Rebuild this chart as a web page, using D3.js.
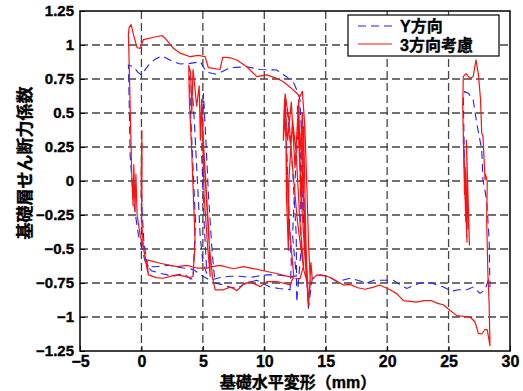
<!DOCTYPE html>
<html>
<head>
<meta charset="utf-8">
<script src="https://cdn.jsdelivr.net/npm/d3@7"></script>
<style>
  body { margin: 0; background: #fff; }
  text { font-family: "Liberation Sans", "Noto Sans CJK JP", sans-serif; font-weight: bold; fill: #000; stroke: #000; stroke-width: 0.35px; }
</style>
</head>
<body>
<div id="graphicContainer"></div>
<script>

// tick values and labels
var xTicks = [-5, 0, 5, 10, 15, 20, 25, 30]
var xTickLabels = ["−5", "0", "5", "10", "15", "20", "25", "30"]
var yTicks = [-1.25, -1, -0.75, -0.5, -0.25, 0, 0.25, 0.5, 0.75, 1, 1.25]
var yTickLabels = ["−1.25", "−1", "−0.75", "−0.5", "−0.25", "0", "0.25", "0.5", "0.75", "1", "1.25"]

var seriesNames = ["Y方向", "3方向考慮"]

// [基礎水平変形 mm, 基礎層せん断力係数]
var bluePath = [
  [0.00, 0.00], [0.05, -0.20], [0.20, -0.45], [0.44, -0.60], [0.57, -0.63],
  [0.30, -0.59], [-0.24, -0.40], [-0.65, -0.15], [-0.92, 0.19], [-1.00, 0.60], [-1.06, 0.853],
  [-0.65, 0.84], [-0.30, 0.80], [-0.02, 0.78], [0.56, 0.85], [1.10, 0.895], [1.66, 0.92], [2.60, 0.877],
  [3.15, 0.86], [3.96, 0.865], [4.80, 0.877], [5.30, 0.80], [6.10, 0.785], [7.22, 0.833], [8.58, 0.84],
  [9.66, 0.82], [11.00, 0.816], [11.80, 0.767], [12.40, 0.72], [12.64, 0.67], [12.90, 0.60],
  [13.10, 0.20], [13.30, -0.30], [13.45, -0.70], [13.60, -0.94], [13.40, -0.55], [13.10, 0.05],
  [12.80, 0.45], [12.50, 0.00], [12.30, -0.40], [12.60, -0.70],
  [11.80, -0.70], [11.00, -0.69], [10.20, -0.69], [9.40, -0.70], [8.85, -0.71], [8.00, -0.70],
  [7.22, -0.70], [6.40, -0.71], [5.60, -0.73], [5.00, -0.70], [4.20, -0.65], [3.40, -0.64],
  [2.20, -0.62], [1.10, -0.63], [0.57, -0.63],
  [0.80, -0.66], [1.60, -0.68], [2.60, -0.70], [3.42, -0.68], [4.00, -0.72], [4.20, -0.72],
  [4.40, -0.30], [4.20, 0.10], [4.00, 0.50], [3.90, 0.77], [4.10, 0.72], [4.30, 0.45], [4.50, 0.10],
  [4.78, -0.40], [5.00, -0.60], [5.32, -0.68], [5.10, -0.30], [4.90, 0.20], [5.05, 0.645], [5.30, 0.20],
  [5.45, -0.09], [5.70, -0.45], [5.86, -0.63], [6.00, -0.75],
  [6.50, -0.76], [7.20, -0.78], [7.76, -0.79], [8.50, -0.75], [9.39, -0.73], [10.00, -0.76],
  [10.47, -0.78], [11.20, -0.79], [12.10, -0.80],
  [12.20, -0.60], [12.00, -0.20], [11.80, 0.30], [11.70, 0.62], [11.90, 0.50], [12.30, 0.10],
  [12.60, -0.40], [12.64, -0.89], [13.00, -0.50], [12.90, 0.20], [13.20, -0.30], [13.59, -0.936],
  [13.90, -0.72], [14.55, -0.69], [15.20, -0.70], [15.90, -0.74], [17.00, -0.715], [17.60, -0.73],
  [18.34, -0.75], [18.90, -0.73], [19.43, -0.73], [20.50, -0.73], [21.00, -0.76], [21.60, -0.79],
  [22.10, -0.77], [22.68, -0.75], [23.63, -0.75], [24.57, -0.78], [25.26, -0.81], [25.80, -0.80],
  [26.48, -0.80], [27.00, -0.78], [27.56, -0.826], [27.97, -0.80], [28.23, -0.73], [28.37, -0.78],
  [28.30, -0.43], [28.10, -0.14], [27.80, 0.007], [27.70, 0.23], [27.30, 0.42], [27.00, 0.60],
  [26.60, 0.645], [26.30, 0.657], [26.20, 0.61],
  [26.30, 0.10], [26.20, 0.30], [26.40, -0.20], [26.30, 0.05], [26.50, -0.41]
]

var redPath = [
  [0.00, 0.00], [0.04, 0.37], [-0.02, 0.02], [0.06, 0.28], [-0.03, -0.12], [0.05, 0.18], [0.02, -0.30],
  [0.16, -0.49], [0.44, -0.64], [0.57, -0.69],
  [0.30, -0.55], [-0.10, -0.40], [-0.35, -0.25], [-0.45, 0.05], [-0.52, -0.22], [-0.62, 0.12],
  [-0.68, -0.18], [-0.78, 0.02], [-0.88, 0.40], [-0.98, 0.80], [-1.06, 1.08], [-1.00, 1.13],
  [-0.84, 1.15], [-0.60, 1.06], [-0.35, 0.98], [-0.10, 0.975],
  [0.16, 1.04], [0.98, 1.057], [1.66, 1.07], [1.93, 1.05], [2.60, 0.976], [3.15, 0.94], [3.96, 0.914],
  [4.64, 0.924], [5.18, 0.914], [5.45, 0.833], [6.40, 0.82], [6.62, 0.91], [7.22, 0.906], [7.76, 0.89],
  [8.58, 0.84], [9.39, 0.767], [10.20, 0.78], [11.00, 0.755], [11.55, 0.73], [12.10, 0.69],
  [12.64, 0.645], [12.90, 0.62],
  [13.10, 0.66], [13.30, 0.40], [13.45, 0.00], [13.60, -0.45], [13.75, -0.75], [13.60, -0.90],
  [13.30, -0.55], [13.00, -0.10], [12.80, 0.30], [12.70, 0.55], [12.90, 0.20], [13.10, 0.50],
  [13.20, -0.20], [13.00, 0.35], [13.30, -0.40], [13.50, -0.75], [13.20, -0.65], [12.70, -0.30],
  [12.30, 0.10], [12.00, 0.45], [11.70, 0.64], [11.60, 0.50], [11.55, 0.30], [11.75, 0.52],
  [11.80, -0.10], [11.96, -0.51], [12.00, 0.00], [12.30, 0.45], [12.60, 0.20], [12.90, -0.30],
  [13.20, -0.62], [12.90, -0.72],
  [11.83, -0.70], [11.00, -0.68], [9.93, -0.66], [8.90, -0.64], [8.30, -0.63], [7.50, -0.645],
  [6.40, -0.62], [5.80, -0.63], [5.30, -0.64], [4.50, -0.64], [3.70, -0.62], [2.90, -0.63],
  [2.34, -0.62], [1.52, -0.605], [0.44, -0.58],
  [0.57, -0.69], [1.20, -0.71], [1.80, -0.715], [2.40, -0.70], [2.88, -0.69], [3.40, -0.70],
  [3.96, -0.71], [4.20, -0.70],
  [4.37, -0.45], [4.10, 0.20], [3.90, 0.60], [3.85, 0.85], [4.00, 0.80], [4.10, 0.50], [4.20, 0.82],
  [4.50, 0.55], [4.70, 0.70], [4.80, 0.30], [4.90, 0.60], [5.10, -0.10], [5.40, -0.50], [5.60, -0.70],
  [5.50, -0.40], [5.10, 0.20], [4.90, 0.55], [5.20, 0.00], [5.50, -0.45], [5.80, -0.72], [6.00, -0.80],
  [6.67, -0.80], [7.20, -0.78], [7.49, -0.79], [7.76, -0.807], [8.30, -0.76], [8.85, -0.74],
  [9.30, -0.76], [9.66, -0.777], [10.20, -0.74], [11.00, -0.74], [11.50, -0.75], [12.10, -0.765],
  [12.40, -0.70], [12.00, -0.30], [11.80, 0.20], [11.65, 0.60], [11.90, 0.30], [12.20, 0.58],
  [12.50, 0.10], [12.80, 0.60], [13.00, -0.20], [13.20, 0.40], [13.40, -0.50], [13.60, -0.92],
  [13.80, -0.60], [13.90, -0.72],
  [14.30, -0.69], [15.10, -0.70], [15.60, -0.72], [16.44, -0.765], [16.98, -0.76], [17.60, -0.785],
  [18.20, -0.796], [18.90, -0.78], [19.40, -0.765], [20.24, -0.80], [20.80, -0.83], [21.32, -0.88],
  [22.40, -0.89], [23.00, -0.88], [23.63, -0.88], [24.10, -0.90], [24.57, -0.91], [25.10, -0.95],
  [25.66, -0.99], [26.74, -1.00], [27.15, -1.035], [27.42, -1.12], [27.70, -1.125], [27.97, -1.09],
  [28.15, -1.095], [28.37, -1.21],
  [28.30, -0.90], [28.20, -0.68], [28.10, -0.29], [28.15, 0.00], [28.00, 0.05], [27.97, 0.007],
  [27.80, 0.33], [27.70, 0.35], [27.60, 0.60], [27.42, 0.79], [27.23, 0.89], [27.00, 0.767],
  [26.74, 0.755], [26.42, 0.79], [26.20, 0.767], [26.15, 0.55],
  [26.30, -0.10], [26.20, 0.35], [26.40, -0.30], [26.25, 0.20], [26.50, -0.45], [26.35, 0.10],
  [26.60, -0.35], [26.45, 0.30], [26.70, -0.47], [26.55, -0.05], [26.65, -0.30]
]

var fullWidth = 523
var fullHeight = 391
var margin = { top: 11, right: 13, bottom: 40, left: 80 }
var width = fullWidth - margin.left - margin.right
var height = fullHeight - margin.top - margin.bottom

var svg = d3.select("#graphicContainer").append("svg")
  .attr("width", fullWidth)
  .attr("height", fullHeight)

var features = svg.append("g").attr("transform", "translate(" + margin.left + "," + margin.top + ")")

var x = d3.scaleLinear().domain([-5, 30]).range([0, width])
var y = d3.scaleLinear().domain([-1.25, 1.25]).range([height, 0])

// dashed grid
features.append("g").attr("class", "grid")
  .selectAll("line.gx")
  .data(xTicks.slice(1, -1))
  .enter().append("line")
  .attr("x1", d => x(d)).attr("x2", d => x(d))
  .attr("y1", 0).attr("y2", height)
  .attr("stroke", "#444").attr("stroke-width", 1.3).attr("stroke-dasharray", "8,4")

features.select(".grid")
  .selectAll("line.gy")
  .data(yTicks.slice(1, -1))
  .enter().append("line")
  .attr("x1", 0).attr("x2", width)
  .attr("y1", d => y(d)).attr("y2", d => y(d))
  .attr("stroke", "#444").attr("stroke-width", 1.3).attr("stroke-dasharray", "8,4")

svg.append("defs").append("clipPath").attr("id", "plotClip")
  .append("rect").attr("width", width).attr("height", height)

var line = d3.line().x(d => x(d[0])).y(d => y(d[1]))

var plot = features.append("g").attr("clip-path", "url(#plotClip)")

plot.append("path")
  .datum(bluePath)
  .attr("d", line)
  .attr("fill", "none")
  .attr("stroke", "#1f1fff")
  .attr("stroke-width", 1.1)
  .attr("stroke-dasharray", "8,5")

plot.append("path")
  .datum(redPath)
  .attr("d", line)
  .attr("fill", "none")
  .attr("stroke", "#ff1010")
  .attr("stroke-width", 1.2)
  .attr("stroke-linejoin", "round")

// axes
var xAxis = d3.axisBottom(x).tickValues(xTicks).tickFormat((d, i) => xTickLabels[i]).tickSize(-5).tickPadding(5)
var yAxis = d3.axisLeft(y).tickValues(yTicks).tickFormat((d, i) => yTickLabels[i]).tickSize(-5).tickPadding(6)

var gx = features.append("g").attr("class", "x").attr("transform", "translate(0," + height + ")").call(xAxis)
var gy = features.append("g").attr("class", "y").call(yAxis)

features.selectAll(".x, .y").select(".domain").remove()
features.selectAll(".x line, .y line").attr("stroke", "#000").attr("stroke-width", 1)
gx.selectAll("text").style("font-size", "16px").attr("dy", "0.71em")
gy.selectAll("text").style("font-size", "15px")

features.append("rect")
  .attr("width", width).attr("height", height)
  .attr("fill", "none").attr("stroke", "#000").attr("stroke-width", 1.5)

// axis titles
svg.append("text")
  .attr("x", 298).attr("y", 388)
  .attr("text-anchor", "middle")
  .style("font-size", "16px")
  .text("基礎水平変形（mm）")

svg.append("text")
  .attr("transform", "translate(31,163) rotate(-90)")
  .attr("text-anchor", "middle")
  .style("font-size", "17px")
  .text("基礎層せん断力係数")

// legend
var legend = svg.append("g").attr("transform", "translate(348,15)")

legend.append("rect")
  .attr("width", 151).attr("height", 41)
  .attr("fill", "#fff").attr("stroke", "#000").attr("stroke-width", 1.2)

legend.append("line")
  .attr("x1", 10).attr("x2", 44).attr("y1", 11).attr("y2", 11)
  .attr("stroke", "#1f1fff").attr("stroke-width", 1.1).attr("stroke-dasharray", "8,5")

legend.append("line")
  .attr("x1", 10).attr("x2", 44).attr("y1", 29).attr("y2", 29)
  .attr("stroke", "#ff1010").attr("stroke-width", 1.2)

legend.selectAll("text.label")
  .data(seriesNames)
  .enter().append("text")
  .attr("x", 52)
  .attr("y", (d, i) => 17 + i * 19)
  .style("font-size", "16px")
  .text(d => d)

</script>
</body>
</html>
